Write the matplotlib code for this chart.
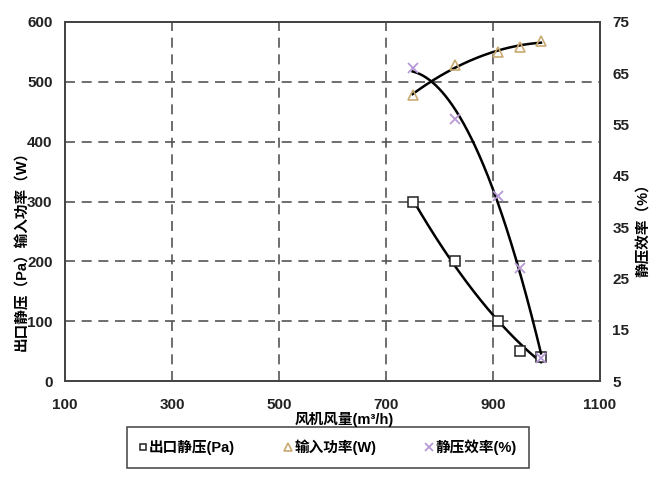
import numpy as np
import matplotlib
matplotlib.use("Agg")
import matplotlib.pyplot as plt
from matplotlib.lines import Line2D

plt.rcParams['font.family'] = ['Liberation Sans', 'Noto Sans CJK SC', 'DejaVu Sans']
plt.rcParams['font.weight'] = 'bold'

# data
flow = [750, 830, 910, 950, 990]              # 风机风量 m3/h
pressure = [300, 200, 100, 50, 40]            # 出口静压 Pa
power = [478, 528, 550, 558, 568]             # 输入功率 W
efficiency = [66, 56, 41, 27, 9.5]            # 静压效率 %

x_ticks = [100, 300, 500, 700, 900, 1100]
y_ticks = [0, 100, 200, 300, 400, 500, 600]
y2_ticks = [5, 15, 25, 35, 45, 55, 65, 75]

fig = plt.figure(figsize=(6.71, 4.94), dpi=100)
ax = fig.add_axes([0.0969, 0.2287, 0.797, 0.7268])
ax2 = ax.twinx()

ax.set_xlim(100, 1100)
ax.set_ylim(0, 600)
ax2.set_ylim(5, 75)
ax.set_xticks(x_ticks)
ax.set_yticks(y_ticks)
ax2.set_yticks(y2_ticks)

grid_kw = dict(color='#555555', lw=1.2, ls=(0, (6, 4)), zorder=1)
for v in x_ticks[1:-1]:
    ax.axvline(v, **grid_kw)
for v in y_ticks[1:-1]:
    ax.axhline(v, **grid_kw)

for a in (ax, ax2):
    for s in a.spines.values():
        s.set_color('#444444')
        s.set_linewidth(1.3)
    a.tick_params(length=0, labelsize=11, colors='#222222')
ax.tick_params(axis='x', pad=12)
ax.tick_params(axis='y', pad=9)
ax2.tick_params(axis='y', pad=9)

# trendlines (2nd order fits through the points)
xs = np.linspace(min(flow), max(flow), 200)
ax.plot(xs, np.polyval(np.polyfit(flow, pressure, 2), xs), color='black', lw=1.8, zorder=3)
ax.plot(xs, np.polyval(np.polyfit(flow, power, 2), xs), color='black', lw=1.8, zorder=3)
ax2.plot(xs, np.polyval(np.polyfit(flow, efficiency, 2), xs), color='black', lw=1.8, zorder=3)

sq_kw = dict(ls='none', marker='s', ms=6.5, mfc='white', mec='#222222', mew=1.1)
tri_kw = dict(ls='none', marker='^', ms=7.5, mfc='none', mec='#c9aa72', mew=1.2)
x_kw = dict(ls='none', marker='x', ms=7.5, mec='#b79ad6', mew=1.3)
ax.plot(flow, pressure, zorder=4, **sq_kw)
ax.plot(flow, power, zorder=4, **tri_kw)
ax2.plot(flow, efficiency, zorder=4, **x_kw)

ax.text(0.522, -0.106, '风机风量(m³/h)', transform=ax.transAxes, ha='center', va='center',
        fontsize=10.5, fontweight='bold', zorder=10)
ax.text(-0.080, 0.373, '出口静压（Pa）输入功率（W）', transform=ax.transAxes, rotation=90,
        ha='center', va='center', fontsize=10.5, fontweight='bold')
ax.text(1.082, 0.429, '静压效率（%）', transform=ax.transAxes, rotation=90,
        ha='center', va='center', fontsize=10.5, fontweight='bold')

handles = [Line2D([], [], **{**sq_kw, 'ms': 5}),
           Line2D([], [], **{**tri_kw, 'ms': 5.5}),
           Line2D([], [], **{**x_kw, 'ms': 5.5})]
labels = ['出口静压(Pa)', '输入功率(W)', '静压效率(%)']
leg = ax.legend(handles, labels, loc='center', bbox_to_anchor=(0.4916, -0.185), ncol=3,
                frameon=True, fancybox=False, edgecolor='#222222', fontsize=10.5,
                handlelength=0.5, handletextpad=0.15, columnspacing=3.4,
                borderpad=0.85, borderaxespad=0)
leg.get_frame().set_linewidth(1.2)
leg.set_zorder(5)

fig.savefig('out.png', dpi=100)
